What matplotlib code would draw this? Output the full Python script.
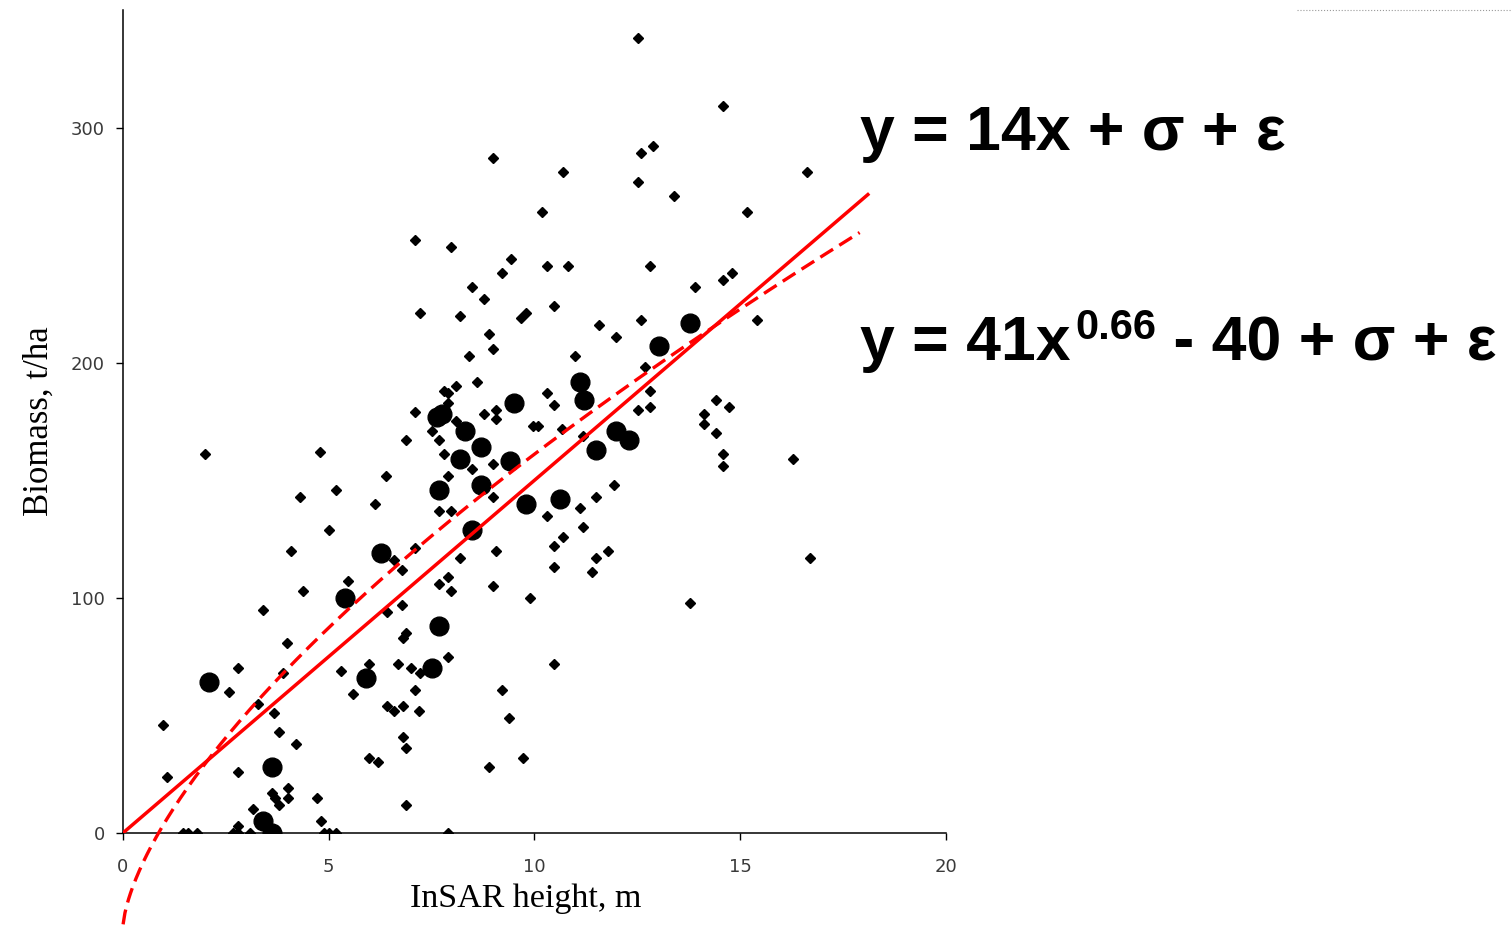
import numpy as np
import matplotlib
matplotlib.use("Agg")
import matplotlib.pyplot as plt
from matplotlib.lines import Line2D

# field plots (small markers): InSAR height (m), biomass (t/ha)
plot_x = [12.52, 14.58, 12.88, 12.59, 8.99, 10.69, 12.52, 13.39, 16.62, 10.18,
          15.16, 7.10, 7.97, 9.43, 9.21, 10.30, 10.81, 8.48, 8.77, 7.22,
          8.19, 9.67, 9.79, 10.47, 11.57, 8.89, 8.99, 8.41, 10.98, 8.60,
          8.09, 7.80, 7.90, 7.90, 7.10, 10.30, 10.47, 9.06, 8.77, 9.06,
          7.51, 8.09, 6.88, 7.68, 9.96, 10.08, 10.67, 11.18, 12.81, 14.58,
          14.80, 13.90, 12.59, 15.41, 11.98, 12.69, 12.81, 12.81, 12.52, 14.41,
          14.73, 14.12, 14.12, 14.41, 14.58, 14.58, 16.28, 11.93, 11.79, 16.70,
          13.78, 1.99, 4.79, 4.30, 5.18, 5.01, 4.08, 5.47, 4.37, 3.40,
          3.99, 7.80, 8.99, 8.48, 7.90, 6.39, 6.12, 8.99, 7.68, 7.97,
          10.30, 11.49, 11.11, 11.18, 10.69, 10.47, 11.49, 10.47, 11.40, 7.10,
          6.59, 6.78, 8.19, 9.06, 7.90, 7.68, 7.97, 8.99, 9.89, 6.78,
          6.42, 6.80, 6.88, 2.79, 2.58, 3.28, 3.67, 3.89, 0.97, 3.79,
          4.20, 2.79, 1.07, 3.62, 3.69, 4.01, 4.01, 3.79, 3.16, 2.79,
          1.46, 1.58, 1.80, 2.67, 2.79, 3.09, 7.90, 6.68, 5.98, 5.30,
          7.00, 7.22, 5.59, 7.10, 6.42, 6.59, 6.80, 7.19, 9.21, 9.38,
          6.80, 6.88, 5.98, 6.20, 8.89, 4.71, 6.88, 4.81, 4.88, 5.01,
          5.18, 7.90, 10.47, 9.72]
plot_y = [338, 309, 292, 289, 287, 281, 277, 271, 281, 264,
          264, 252, 249, 244, 238, 241, 241, 232, 227, 221,
          220, 219, 221, 224, 216, 212, 206, 203, 203, 192,
          190, 188, 187, 183, 179, 187, 182, 180, 178, 176,
          171, 175, 167, 167, 173, 173, 172, 169, 241, 235,
          238, 232, 218, 218, 211, 198, 188, 181, 180, 184,
          181, 178, 174, 170, 161, 156, 159, 148, 120, 117,
          98, 161, 162, 143, 146, 129, 120, 107, 103, 95,
          81, 161, 157, 155, 152, 152, 140, 143, 137, 137,
          135, 143, 138, 130, 126, 122, 117, 113, 111, 121,
          116, 112, 117, 120, 109, 106, 103, 105, 100, 97,
          94, 83, 85, 70, 60, 55, 51, 68, 46, 43,
          38, 26, 24, 17, 15, 19, 15, 12, 10, 3,
          0, 0, 0, 0, 0, 0, 75, 72, 72, 69,
          70, 68, 59, 61, 54, 52, 54, 52, 61, 49,
          41, 36, 32, 30, 28, 15, 12, 5, 0, 0,
          0, 0, 72, 32]

# large markers
big_x = [7.63, 8.31, 9.50, 11.11, 11.20, 13.03, 13.78, 8.19, 8.70, 9.40,
         8.70, 7.68, 9.79, 10.62, 8.48, 6.27, 7.68, 11.98, 12.30, 11.49,
         5.39, 5.91, 7.51, 2.09, 3.62, 3.40, 3.62, 7.75]
big_y = [177, 171, 183, 192, 184, 207, 217, 159, 164, 158,
         148, 146, 140, 142, 129, 119, 88, 171, 167, 163,
         100, 66, 70, 64, 28, 5, 0, 178]

# fitted models as drawn
lin_slope = 15.0
lin_xmax = 18.1
pow_a, pow_b, pow_c = 44.0, 0.66, 40.0
pow_xmax = 17.9

fig = plt.figure(figsize=(15.12, 9.33), dpi=100)
ax = fig.add_axes([0.0813, 0.1072, 0.5444, 0.8821])

ax.plot(plot_x, plot_y, ls="none", marker="D", ms=4.6, color="black", zorder=3)
ax.plot(big_x, big_y, ls="none", marker="o", ms=13.5, color="black", zorder=3)

xl = np.linspace(0, lin_xmax, 200)
ax.plot(xl, lin_slope * xl, color="red", lw=2.5, zorder=4)
xp = np.linspace(0.004, pow_xmax, 400)
ax.plot(xp, pow_a * xp ** pow_b - pow_c, color="red", lw=2.4,
        ls=(0, (4.5, 2.2)), zorder=4, clip_on=False)

ax.set_xlim(0, 20)
ax.set_ylim(0, 350)
ax.set_xticks([0, 5, 10, 15, 20])
ax.set_yticks([0, 100, 200, 300])
ax.tick_params(direction="out", length=5, width=1, labelsize=13,
               labelcolor="#3a3a3a", pad=8)
ax.tick_params(axis="x", pad=13)
for s in ["top", "right"]:
    ax.spines[s].set_visible(False)
for s in ["left", "bottom"]:
    ax.spines[s].set_linewidth(1.1)

ax.set_xlabel("InSAR height, m", family="Liberation Serif", fontsize=24.5)
ax.xaxis.set_label_coords(0.489, -0.061)
ax.set_ylabel("Biomass, t/ha", family="Liberation Serif", fontsize=25)
ax.yaxis.set_label_coords(-0.082, 0.5)

# equations
eq_font = dict(family="Liberation Sans", weight="bold", color="black")
fig.text(0.569, 0.839, "y = 14x + \u03c3 + \u03b5", fontsize=45, va="baseline", **eq_font)

r = fig.canvas.get_renderer()
t1 = fig.text(0.569, 0.614, "y = 41x", fontsize=45, va="baseline", **eq_font)
bb = t1.get_window_extent(r)
x1 = bb.x1 / fig.bbox.width + 0.003
t2 = fig.text(x1, 0.637, "0.66", fontsize=30, va="baseline", **eq_font)
bb = t2.get_window_extent(r)
x2 = bb.x1 / fig.bbox.width
fig.text(x2, 0.614, " - 40 + \u03c3 + \u03b5", fontsize=45, va="baseline", **eq_font)

fig.add_artist(Line2D([0.858, 1.0], [0.989, 0.989], color="#9a9a9a", lw=0.8, ls=":"))

fig.savefig("out.png", dpi=100)
